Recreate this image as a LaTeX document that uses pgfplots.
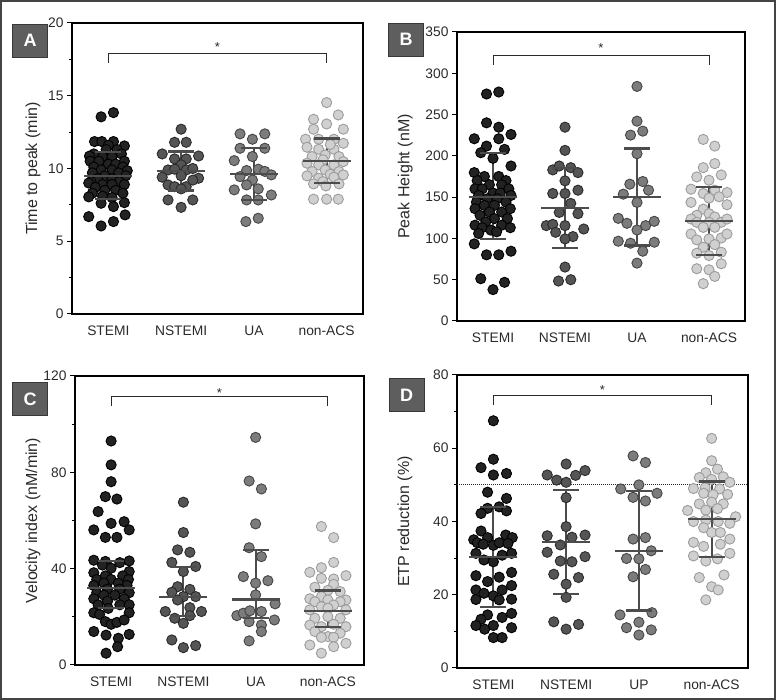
\documentclass[border=0pt]{standalone}
\usepackage{fontspec}
\setmainfont{Liberation Sans}
\usepackage{pgfplots}
\pgfplotsset{compat=1.18}
\definecolor{cS}{HTML}{222222}
\definecolor{cSe}{HTML}{000000}
\definecolor{cN}{HTML}{555555}
\definecolor{cNe}{HTML}{2A2A2A}
\definecolor{cU}{HTML}{7C7C7C}
\definecolor{cUe}{HTML}{454545}
\definecolor{cC}{HTML}{D0D0D0}
\definecolor{cCe}{HTML}{9C9C9C}
\definecolor{cBar}{HTML}{4C4C4C}
\definecolor{cTxt}{HTML}{2A2A2A}
\definecolor{cBox}{HTML}{5E5E5E}
\definecolor{cFrame}{HTML}{444444}
\pgfplotsset{
  panel/.style={scale only axis, anchor=south west, clip=false,
    xmin=-0.5, xmax=3.5, xtick={0,1,2,3},
    xtick style={draw=none},
    ytick pos=left, tick align=outside,
    major tick length=5bp, minor tick length=3bp,
    axis line style={line width=1.3bp, black},
    every tick/.append style={line width=1bp, black},
    tick label style={font=\fontsize{13.8bp}{15bp}\selectfont, text=cTxt},
    xticklabel style={yshift=-3bp},
    ylabel style={font=\fontsize{16bp}{17bp}\selectfont, text=cTxt, anchor=center},
    /pgf/number format/assume math mode=true,
    scaled y ticks=false,
  },
  gS/.style={only marks, mark=*, mark size=5.1bp, mark options={draw=cSe, fill=cS, line width=0.9bp}},
  gN/.style={only marks, mark=*, mark size=5.1bp, mark options={draw=cNe, fill=cN, line width=0.9bp}},
  gU/.style={only marks, mark=*, mark size=5.1bp, mark options={draw=cUe, fill=cU, line width=0.9bp}},
  gC/.style={only marks, mark=*, mark size=5.1bp, mark options={draw=cCe, fill=cC, line width=0.9bp}},
  bar/.style={draw=cBar, line width=2.2bp, unbounded coords=jump, mark=none},
  caps/.style={only marks, mark=-, mark size=13bp, mark options={draw=cBar, line width=2.2bp}},
  means/.style={only marks, mark=-, mark size=24bp, mark options={draw=cBar, line width=2.2bp}},
}
\tikzset{
  brk/.style={draw=cTxt, line width=0.9bp},
  plabel/.style={fill=cBox, draw=cBox!60!black, line width=0.8bp, minimum width=35bp, minimum height=33bp, text=white, font=\bfseries\fontsize{18bp}{18bp}\selectfont, inner sep=0},
  star/.style={anchor=base, inner sep=0, yshift=-7.5bp, text=cTxt, font=\fontsize{13bp}{13bp}\selectfont},
}
\begin{document}
\begin{tikzpicture}[x=1bp, y=1bp]
\path[use as bounding box] (0,0) rectangle (776,700);
\draw[line width=2bp, draw=cFrame] (1,1) rectangle (775,699);

% ---------------- Panel A ----------------
\begin{axis}[panel, at={(72bp,386bp)}, width=291bp, height=291bp,
  ymin=0, ymax=20, ytick={0,5,10,15,20}, minor y tick num=1,
  xticklabels={STEMI,NSTEMI,UA,non-ACS},
  ylabel={Time to peak (min)}, ylabel style={at={(axis description cs:-0.134,0.5)}}]
\addplot[gS] coordinates {(0.07,13.84) (-0.10,13.55)
(-0.19,11.85) (-0.09,11.85) (0.07,11.85) (0.22,11.55) (0.00,11.60)
(-0.03,11.30) (0.12,11.30) (-0.20,11.00) (0.18,11.00) (-0.26,10.85)
(-0.08,10.80) (0.05,10.80) (-0.25,10.50) (-0.13,10.50) (0.22,10.50)
(0.00,10.30) (0.10,10.30) (-0.20,10.10) (0.20,10.10)
(-0.10,9.90) (0.05,9.90) (0.26,9.85) (-0.22,9.70) (0.14,9.70)
(-0.05,9.50) (0.24,9.50) (-0.15,9.30) (0.05,9.30)
(-0.24,9.10) (0.15,9.10) (-0.27,9.00) (-0.08,8.90) (0.05,8.90) (0.22,8.90)
(-0.18,8.70) (-0.05,8.50) (0.10,8.50) (-0.22,8.30) (0.20,8.30)
(-0.27,8.05) (-0.08,8.10) (0.05,8.00)
(0.22,7.65) (-0.10,7.61) (0.07,7.38)
(-0.27,6.69) (0.23,6.81) (0.07,6.35) (-0.10,6.05)};
\addplot[gN] coordinates {(1.00,12.70) (0.91,11.80) (1.07,11.80)
(0.74,11.00) (1.24,10.86) (0.91,10.66) (1.07,10.66) (1.00,10.25)
(0.82,9.90) (0.91,9.95) (1.07,9.90) (1.16,10.00) (1.00,9.50)
(0.74,9.40) (1.24,9.33) (0.82,8.87) (0.91,8.75) (1.07,8.75) (1.16,9.20) (1.00,8.60)
(0.82,7.84) (1.16,7.84) (1.00,7.33)};
\addplot[gU] coordinates {(1.81,12.38) (2.15,12.38) (1.98,12.01)
(1.81,11.39) (2.15,11.39) (1.98,10.82) (1.73,10.54)
(1.90,9.86) (2.06,9.95) (2.15,9.80) (1.81,9.44) (1.98,9.21) (2.24,9.56)
(1.73,8.53) (1.90,8.87) (2.06,8.60) (2.24,8.18) (1.90,7.84) (2.06,7.84)
(1.89,6.35) (2.06,6.58)};
\addplot[gC] coordinates {(3.00,14.53) (2.82,13.38) (3.16,13.68) (3.00,13.06)
(2.82,12.70) (3.23,12.70) (2.71,12.01) (2.89,12.01) (3.10,12.01) (3.23,11.73)
(2.73,11.46) (2.89,11.32) (3.10,11.32) (3.05,11.65)
(2.80,10.82) (2.98,10.93) (3.17,10.82) (2.95,10.60)
(2.73,10.36) (2.89,10.25) (3.10,10.25) (3.23,10.47)
(2.80,9.79) (2.98,9.90) (3.17,9.79) (3.05,9.60)
(2.73,9.49) (2.89,9.33) (3.10,9.40) (3.23,9.56) (2.95,9.10)
(2.82,8.94) (2.99,8.80) (3.17,8.94)
(2.82,7.89) (3.00,7.89) (3.16,7.89)};
\addplot[bar] coordinates {(0,7.89) (0,11.13) (0,nan) (1,8.49) (1,11.17) (1,nan) (2,7.86) (2,11.40) (2,nan) (3,8.98) (3,12.06)};
\addplot[caps] coordinates {(0,7.89) (0,11.13) (1,8.49) (1,11.17) (2,7.86) (2,11.40) (3,8.98) (3,12.06)};
\addplot[means] coordinates {(0,9.51) (1,9.83) (2,9.63) (3,10.52)};
\draw[brk] (axis cs:0,17.25) -- (axis cs:0,17.94) -- (axis cs:3,17.94) -- (axis cs:3,17.25);
\node[star] at (axis cs:1.5,18.56) {*};
\end{axis}

% ---------------- Panel B ----------------
\begin{axis}[panel, at={(457bp,379bp)}, width=288bp, height=289bp,
  ymin=0, ymax=350, ytick={0,50,...,350},
  xticklabels={STEMI,NSTEMI,UA,non-ACS},
  ylabel={Peak Height (nM)}, ylabel style={at={(axis description cs:-0.18,0.5)}}]
\addplot[gS] coordinates {(-0.09,274.9) (0.08,277.3) (-0.09,240.0) (0.08,234.7)
(-0.26,220.7) (0.08,220.7) (0.25,225.9) (-0.09,211.8) (0.16,207.8)
(-0.17,203.8) (0.00,197.0) (0.25,187.7) (-0.26,179.7)
(-0.12,175) (0.08,175) (-0.22,170) (0.18,170) (-0.05,165) (0.12,165)
(-0.25,160) (-0.15,160) (0.22,160) (0.00,155) (0.10,155) (-0.20,152) (0.25,152)
(-0.08,148) (0.06,148) (-0.23,144) (0.18,144) (-0.12,140) (0.02,140)
(-0.25,136) (0.24,136) (-0.05,132) (0.12,132) (-0.18,128) (0.02,124) (0.20,124)
(-0.10,120) (-0.25,116) (0.12,116) (-0.15,113) (0.24,113) (-0.03,110) (0.05,108)
(-0.20,106)
(-0.26,93.4) (-0.09,80.1) (0.08,80.1) (0.25,84.5)
(-0.17,51.2) (0.16,46.8) (0.00,38.0)};
\addplot[gN] coordinates {(1.00,234.7) (1.00,206.6)
(0.83,183.0) (0.92,187.7) (1.08,185.7) (1.18,179.7) (1.00,169.7)
(0.83,154.4) (1.00,154.4) (1.18,158.4) (1.08,142.4)
(0.92,131.5) (1.18,130.0) (0.74,115.5) (0.83,117.0) (1.00,115.5) (1.26,111.4)
(0.87,107.4) (1.11,102.2) (1.00,99.4) (1.00,65.3) (0.91,48.4) (1.08,50.0)};
\addplot[gU] coordinates {(2.00,284.1) (2.00,242.0) (1.91,225.1) (2.08,229.9) (2.00,202.6)
(1.90,165.7) (2.08,168.9) (2.16,158.4) (1.81,153.6) (2.00,143.6)
(1.74,124.3) (1.86,118.3) (2.12,115.5) (2.24,120.7) (2.00,110.2)
(1.74,96.6) (1.91,94.2) (2.24,95.4) (2.08,84.5) (2.00,70.1)};
\addplot[gC] coordinates {(2.92,219.9) (3.08,211.8) (2.92,185.7) (3.08,190.6)
(2.83,174.5) (3.00,170.5) (3.17,176.9)
(2.75,159.6) (2.92,154.4) (3.08,158.4) (3.25,155.6) (3.00,148.8) (3.14,150.4)
(2.75,143.6) (2.92,135.5) (3.25,140.8) (2.83,128.0) (3.00,130.0) (3.08,126.0)
(2.75,123.5) (2.83,119.5) (3.00,119.5) (3.17,119.5) (3.25,123.5)
(2.92,113.4) (3.08,113.4) (2.75,105.4) (2.83,98.2) (3.00,99.4) (3.17,100.5) (3.25,105.4)
(2.92,89.4) (3.08,92.5) (2.83,82.1) (3.00,79.3) (3.17,83.3)
(2.83,63.3) (3.00,62.0) (3.17,69.3) (3.08,54.0) (2.92,45.2)};
\addplot[bar] coordinates {(0,99.4) (0,203.8) (0,nan) (1,88.5) (1,185.7) (1,nan) (2,91.4) (2,209.0) (2,nan) (3,80.1) (3,162.4)};
\addplot[caps] coordinates {(0,99.4) (0,203.8) (1,88.5) (1,185.7) (2,91.4) (2,209.0) (3,80.1) (3,162.4)};
\addplot[means] coordinates {(0,150.4) (1,137.1) (2,150.4) (3,120.7)};
\draw[brk] (axis cs:0,310) -- (axis cs:0,322) -- (axis cs:3,322) -- (axis cs:3,310);
\node[star] at (axis cs:1.5,334) {*};
\end{axis}

% ---------------- Panel C ----------------
\begin{axis}[panel, at={(75bp,35bp)}, width=289bp, height=289bp,
  ymin=0, ymax=120, ytick={0,40,80,120}, minor y tick num=1,
  xticklabels={STEMI,NSTEMI,UA,non-ACS},
  ylabel={Velocity index (nM/min)}, ylabel style={at={(axis description cs:-0.145,0.5)}}]
\addplot[gS] coordinates {(0.00,93.0) (0.00,83.1) (0.00,76.1) (-0.08,69.9) (0.08,68.9)
(-0.18,63.7) (-0.24,56.1) (0.00,58.8) (0.18,59.5) (0.25,56.1) (-0.08,53.0) (0.08,53.0)
(-0.24,43.5) (-0.08,43.0) (0.12,42.5) (0.25,43.2) (-0.12,41.5) (0.00,40.2)
(-0.24,38.3) (0.25,38.8) (-0.08,37.0) (0.16,37.0) (-0.20,35.5) (0.00,35.5) (0.24,35.5)
(-0.10,34.0) (0.10,34.0) (-0.24,33.0) (0.22,33.0) (-0.05,31.5) (0.12,31.5)
(-0.20,30.0) (0.25,30.0) (-0.10,29.0) (0.05,29.0) (-0.24,27.5) (0.18,27.5) (-0.05,26.5)
(-0.18,25.0) (0.12,25.0) (0.25,25.0) (-0.04,23.5)
(-0.24,21.7) (-0.16,21.0) (0.25,21.7)
(-0.08,18.0) (0.00,16.9) (0.08,17.7) (0.18,18.7)
(-0.24,13.9) (-0.07,12.4) (0.10,11.1) (0.25,12.7) (0.09,7.6) (-0.07,4.9)};
\addplot[gN] coordinates {(1.00,67.6) (1.00,55.0) (0.92,47.8) (1.09,46.8)
(0.84,42.6) (1.17,40.9) (1.00,38.8) (0.92,32.5) (1.09,31.4) (0.84,30.2) (1.00,28.4) (1.17,28.4)
(0.92,27.0) (0.75,22.2) (1.09,23.8) (1.25,22.2) (0.88,19.4) (1.00,17.3) (1.09,20.5)
(0.84,10.4) (1.00,7.2) (1.17,8.05)};
\addplot[gU] coordinates {(2.00,94.5) (1.91,76.4) (2.08,73.1) (2.00,58.6)
(1.91,48.7) (2.08,45.0) (1.83,36.7) (2.17,35.0) (2.00,34.0) (2.00,29.1) (2.27,25.4)
(1.74,20.5) (1.83,21.5) (1.92,22.5) (2.08,22.2) (1.91,18.0) (2.08,16.6) (2.26,18.7)
(2.08,13.9) (1.91,10.0)};
\addplot[gC] coordinates {(2.91,57.5) (3.08,52.9) (3.08,42.6)
(2.75,38.5) (2.91,40.4) (3.25,37.1) (2.91,36.0) (3.08,35.7) (3.08,33.5)
(2.82,32.3) (3.17,30.5) (3.00,31.0)
(2.75,27.5) (2.91,28.4) (3.25,27.0) (2.82,26.3) (3.17,26.3) (3.00,27.0)
(2.75,22.9) (2.91,24.2) (3.08,24.9) (3.25,22.9) (3.00,23.6)
(2.82,19.4) (3.00,20.1) (3.17,19.4) (2.75,16.6) (2.91,15.9) (3.08,16.9) (3.25,15.9)
(2.82,13.9) (3.00,11.8) (3.17,13.2) (2.91,11.5) (3.08,11.5)
(2.75,8.3) (3.25,9.0) (3.08,7.6) (2.91,4.9)};
\addplot[bar] coordinates {(0,23.6) (0,43.2) (0,nan) (1,20.5) (1,40.6) (1,nan) (2,19.4) (2,47.8) (2,nan) (3,15.9) (3,30.9)};
\addplot[caps] coordinates {(0,23.6) (0,43.2) (1,20.5) (1,40.6) (2,19.4) (2,47.8) (3,15.9) (3,30.9)};
\addplot[means] coordinates {(0,31.9) (1,28.1) (2,27.2) (3,22.4)};
\draw[brk] (axis cs:0,107.7) -- (axis cs:0,111.4) -- (axis cs:3,111.4) -- (axis cs:3,107.7);
\node[star] at (axis cs:1.5,114.2) {*};
\end{axis}

% ---------------- Panel D ----------------
\begin{axis}[panel, at={(457bp,32bp)}, width=291bp, height=293bp,
  ymin=0, ymax=80, ytick={0,20,...,80}, minor y tick num=1,
  xticklabels={STEMI,NSTEMI,UP,non-ACS},
  ylabel={ETP reduction (\%)}, ylabel style={at={(axis description cs:-0.179,0.5)}}]
\addplot[cTxt, line width=1bp, densely dotted] coordinates {(-0.5,50) (3.5,50)};
\addplot[gS] coordinates {(0.00,67.5) (0.00,57.0) (-0.17,54.7) (0.00,52.7) (0.18,53.1)
(-0.08,48.0) (0.18,46.3) (-0.08,43.6) (0.08,44.0) (-0.17,42.2) (0.18,42.9) (-0.17,37.4)
(-0.27,35.0) (-0.08,35.6) (0.17,36.3) (0.26,35.6)
(-0.22,34.2) (-0.14,33.8) (0.00,33.5) (0.08,34.2) (0.20,34.0)
(-0.24,31.3) (0.12,30.8) (0.25,31.3) (-0.13,29.5) (0.00,29.0)
(-0.24,25.2) (0.08,24.8) (0.25,26.1) (-0.08,23.6)
(-0.24,21.3) (-0.13,20.4) (0.00,19.7) (0.12,21.3) (0.25,22.5)
(-0.24,18.7) (0.08,18.6) (0.25,18.8)
(-0.08,14.5) (-0.17,13.3) (0.12,13.8) (0.25,14.9)
(-0.24,11.6) (-0.12,10.6) (0.00,11.6) (0.25,11.0) (0.00,8.3) (0.12,8.3)};
\addplot[gN] coordinates {(1.00,55.7) (0.74,52.7) (0.87,51.3) (1.00,50.7) (1.13,52.6) (1.26,53.9)
(1.00,46.5) (1.00,38.6) (0.74,36.1) (0.92,33.6) (1.08,35.7) (1.26,36.3)
(0.74,31.6) (1.26,30.4) (0.92,29.2) (1.08,29.0) (0.83,25.6) (1.17,24.7)
(1.00,22.9) (1.00,19.3) (0.83,12.6) (1.00,10.6) (1.17,11.9)};
\addplot[gU] coordinates {(1.92,57.9) (2.09,56.1) (1.75,48.9) (2.00,50.0) (2.25,47.7)
(1.92,46.6) (2.09,45.6) (1.92,35.2) (2.09,35.6) (2.17,32.0)
(1.83,29.9) (2.00,29.8) (2.09,26.9) (1.92,24.9)
(1.74,14.5) (2.18,15.1) (2.00,12.5) (1.83,11.0) (2.17,10.4) (2.00,9.0)};
\addplot[gC] coordinates {(3.00,62.7) (3.00,56.6) (2.92,53.3) (3.08,54.3)
(2.83,52.0) (3.00,51.5) (3.16,52.2) (3.25,50.7) (2.75,49.0) (2.91,49.2) (3.11,48.9)
(2.89,47.7) (3.02,47.3) (3.22,47.4) (2.83,44.8) (3.00,45.3) (3.16,44.8)
(2.67,43.0) (2.92,43.1) (3.08,43.5) (3.33,41.3) (2.75,40.0) (2.92,40.4) (3.09,40.0)
(2.89,38.3) (3.25,39.5) (3.00,37.0) (3.12,37.0)
(2.75,34.3) (2.89,33.2) (3.12,33.8) (3.25,35.2)
(2.75,30.6) (2.92,29.2) (3.08,29.8) (3.25,31.3)
(2.83,24.7) (3.17,25.4) (3.00,22.2) (3.09,21.3) (2.92,18.6)};
\addplot[bar] coordinates {(0,16.6) (0,43.9) (0,nan) (1,20.2) (1,48.6) (1,nan) (2,15.7) (2,48.3) (2,nan) (3,30.2) (3,50.9)};
\addplot[caps] coordinates {(0,16.6) (0,43.9) (1,20.2) (1,48.6) (2,15.7) (2,48.3) (3,30.2) (3,50.9)};
\addplot[means] coordinates {(0,30.2) (1,34.5) (2,31.9) (3,40.6)};
\draw[brk] (axis cs:0,71.8) -- (axis cs:0,74.3) -- (axis cs:3,74.3) -- (axis cs:3,71.8);
\node[star] at (axis cs:1.5,76.8) {*};
\end{axis}

\node[plabel] at (30,659.5) {A};
\node[plabel] at (406,660.5) {B};
\node[plabel] at (30,301) {C};
\node[plabel] at (406.5,305) {D};
\end{tikzpicture}
\end{document}
